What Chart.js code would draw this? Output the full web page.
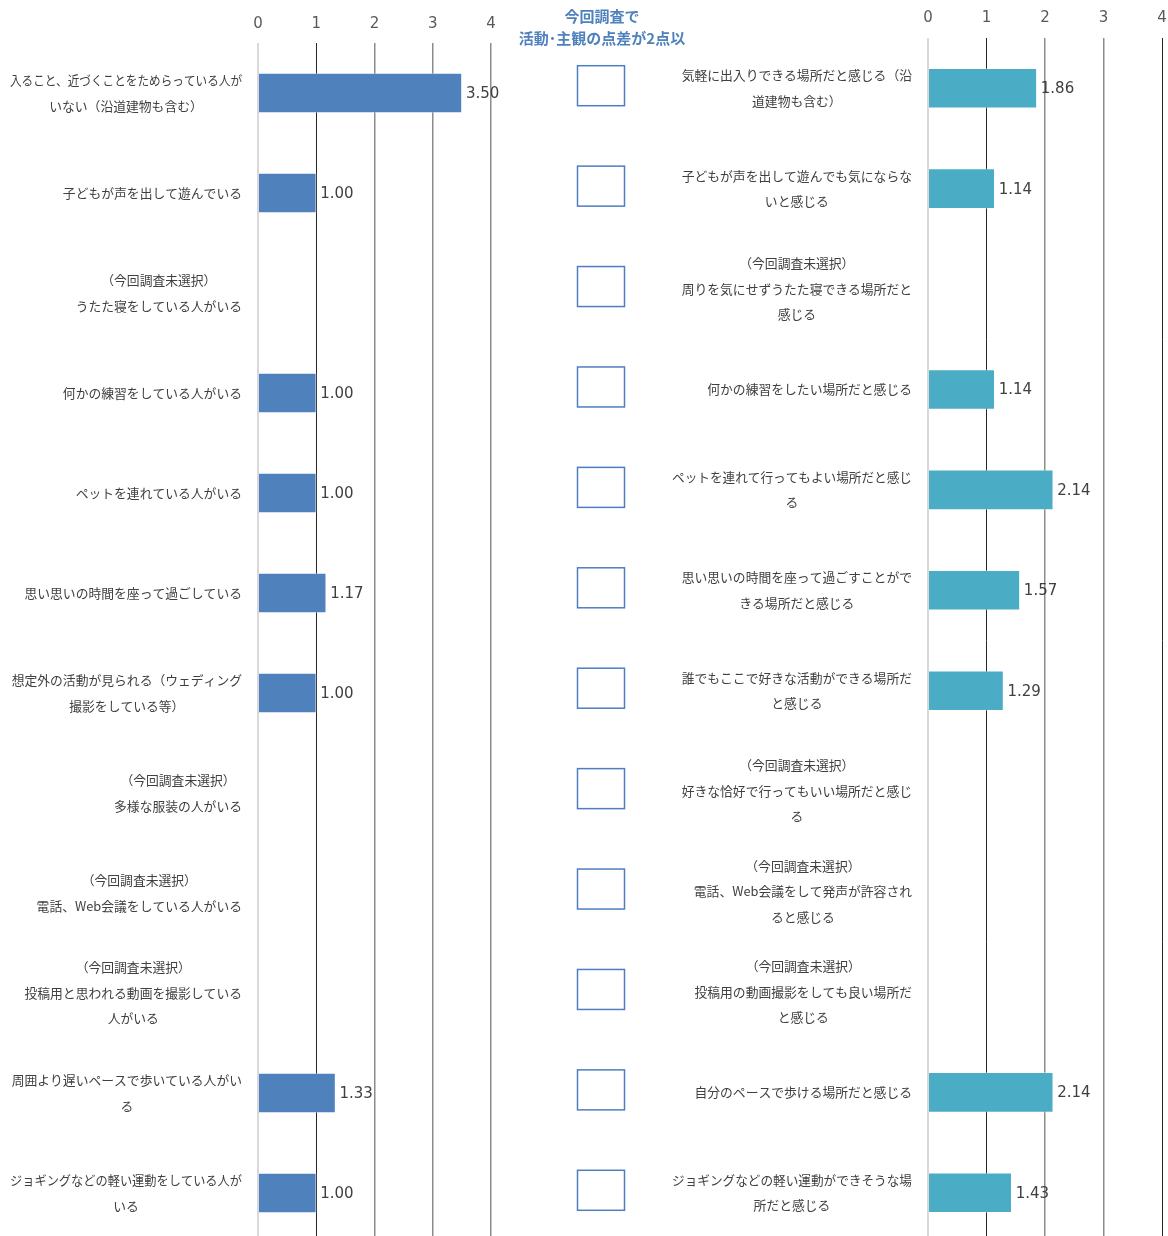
<!DOCTYPE html>
<html lang="ja">

<head>
    <meta charset="UTF-8">
    <meta name="viewport" content="width=device-width, initial-scale=1.0">
    <script src="https://cdn.jsdelivr.net/npm/chart.js"></script>
    <title>活動・主観</title>
    <style>
        body {
            margin: 0;
            width: 1168px;
            height: 1236px;
            overflow: hidden;
            background: #ffffff;
            position: relative;
        }

        #box_left {
            position: absolute;
            left: 0;
            top: 0;
        }

        #box_right {
            position: absolute;
            left: 500px;
            top: 0;
        }

        #titulo {
            position: absolute;
            left: 502px;
            top: 5px;
            width: 200px;
            text-align: center;
            color: #4F81BD;
            font: bold 15px "Noto Sans CJK JP";
            line-height: 22px;
            white-space: nowrap;
        }
    </style>
</head>

<body>
    <canvas id="box_left" width="520" height="1244"></canvas>
    <canvas id="box_right" width="680" height="1244"></canvas>
    <div id="titulo">今回調査で<br>活動･主観の点差が2点以</div>
</body>

</html>

<script>

    var labelsLeft = [
        ['入ること、近づくことをためらっている人が', 'いない（沿道建物も含む）'],
        ['子どもが声を出して遊んでいる'],
        ['（今回調査未選択）', 'うたた寝をしている人がいる'],
        ['何かの練習をしている人がいる'],
        ['ペットを連れている人がいる'],
        ['思い思いの時間を座って過ごしている'],
        ['想定外の活動が見られる（ウェディング', '撮影をしている等）'],
        ['（今回調査未選択）', '多様な服装の人がいる'],
        ['（今回調査未選択）', '電話、Web会議をしている人がいる'],
        ['（今回調査未選択）', '投稿用と思われる動画を撮影している', '人がいる'],
        ['周囲より遅いペースで歩いている人がい', 'る'],
        ['ジョギングなどの軽い運動をしている人が', 'いる']
    ];
    var valuesLeft = [3.50, 1.00, null, 1.00, 1.00, 1.17, 1.00, null, null, null, 1.33, 1.00];

    var labelsRight = [
        ['気軽に出入りできる場所だと感じる（沿', '道建物も含む）'],
        ['子どもが声を出して遊んでも気にならな', 'いと感じる'],
        ['（今回調査未選択）', '周りを気にせずうたた寝できる場所だと', '感じる'],
        ['何かの練習をしたい場所だと感じる'],
        ['ペットを連れて行ってもよい場所だと感じ', 'る'],
        ['思い思いの時間を座って過ごすことがで', 'きる場所だと感じる'],
        ['誰でもここで好きな活動ができる場所だ', 'と感じる'],
        ['（今回調査未選択）', '好きな恰好で行ってもいい場所だと感じ', 'る'],
        ['（今回調査未選択）', '電話、Web会議をして発声が許容され', 'ると感じる'],
        ['（今回調査未選択）', '投稿用の動画撮影をしても良い場所だ', 'と感じる'],
        ['自分のペースで歩ける場所だと感じる'],
        ['ジョギングなどの軽い運動ができそうな場', '所だと感じる']
    ];
    var valuesRight = [1.86, 1.14, null, 1.14, 2.14, 1.57, 1.29, null, null, null, 2.14, 1.43];

    var scaleMin = 0;
    var scaleMax = 4;

    var numFont = '15px "DejaVu Sans"';
    var jpFont = '12.8px "Noto Sans CJK JP"';

    // labels of the rows: block pushed to the right, lines centred inside it
    function rowLabels(labels, rightEdge, maxLine, drawBoxes) {
        return {
            id: 'rowLabels',
            afterDraw: function (chart) {
                var ctx = chart.ctx;
                var yScale = chart.scales.y;
                ctx.save();
                ctx.font = jpFont;
                ctx.fillStyle = '#404040';
                ctx.textAlign = 'center';
                ctx.textBaseline = 'middle';
                for (var i = 0; i < labels.length; i++) {
                    var lines = labels[i];
                    var yc = yScale.getPixelForValue(i);
                    var maxW = 0;
                    for (var j = 0; j < lines.length; j++) {
                        maxW = Math.max(maxW, ctx.measureText(lines[j]).width);
                    }
                    maxW = Math.min(maxW, maxLine);
                    var cx = rightEdge - maxW / 2;
                    for (var j = 0; j < lines.length; j++) {
                        ctx.fillText(lines[j], cx, yc + (j - (lines.length - 1) / 2) * 25.5, maxLine);
                    }
                    if (drawBoxes) {
                        ctx.strokeStyle = '#4F7EC0';
                        ctx.lineWidth = 1.5;
                        ctx.strokeRect(77.5, yc - 22.5, 47, 40);
                    }
                }
                ctx.restore();
            }
        };
    }

    // value written after the end of each bar
    var valueLabels = {
        id: 'valueLabels',
        afterDatasetsDraw: function (chart) {
            var ctx = chart.ctx;
            var meta = chart.getDatasetMeta(0);
            var data = chart.data.datasets[0].data;
            ctx.save();
            ctx.font = numFont;
            ctx.fillStyle = '#404040';
            ctx.textAlign = 'left';
            ctx.textBaseline = 'middle';
            meta.data.forEach(function (bar, i) {
                if (data[i] == null) return;
                ctx.fillText(data[i].toFixed(2), bar.x + 4, bar.y + 1);
            });
            ctx.restore();
        }
    };

    function gridColor(darkTicks) {
        return function (c) {
            var v = c.tick.value;
            if (v == 0) return '#d9d9d9';
            if (darkTicks.indexOf(v) >= 0) return '#262626';
            return '#8c8c8c';
        };
    }

    function gridWidth(darkTicks) {
        return function (c) {
            var v = c.tick.value;
            if (v == 0) return 2;
            if (darkTicks.indexOf(v) >= 0) return 1;
            return 1.5;
        };
    }

    function makeChart(canvas, labels, values, color, axisWidth, axisHeight, padRight, padTicks, labelEdge, maxLine, darkTicks, boxes) {
        return new Chart(canvas, {
            type: 'bar',
            data: {
                labels: labels.map(function (l) { return l.join(''); }),
                datasets: [{
                    data: values,
                    backgroundColor: color,
                    borderColor: 'rgba(255,255,255,0.35)',
                    borderWidth: 1,
                    barThickness: 40
                }]
            },
            options: {
                indexAxis: 'y',
                responsive: false,
                animation: false,
                layout: { padding: { left: 0, right: padRight, top: 0, bottom: 1 } },
                plugins: {
                    legend: { display: false },
                    tooltip: { enabled: false }
                },
                scales: {
                    x: {
                        position: 'top',
                        min: scaleMin,
                        max: scaleMax,
                        ticks: {
                            stepSize: 1,
                            padding: padTicks,
                            color: '#595959',
                            font: { family: 'DejaVu Sans', size: 15 }
                        },
                        grid: {
                            drawTicks: false,
                            color: gridColor(darkTicks),
                            lineWidth: gridWidth(darkTicks)
                        },
                        border: { display: false },
                        afterFit: function (s) { s.height = axisHeight; }
                    },
                    y: {
                        ticks: { display: false },
                        grid: { display: false },
                        border: { display: false },
                        afterFit: function (s) { s.width = axisWidth; }
                    }
                }
            },
            plugins: [valueLabels, rowLabels(labels, labelEdge, maxLine, boxes)]
        });
    }

    var chartLeft = makeChart(box_left, labelsLeft, valuesLeft, '#4F81BD', 258, 43, 29, 10, 242, 232, [1], false);
    var chartRight = makeChart(box_right, labelsRight, valuesRight, '#4BACC6', 428, 38, 18, 11, 412, 240, [1, 4], true);

</script>
